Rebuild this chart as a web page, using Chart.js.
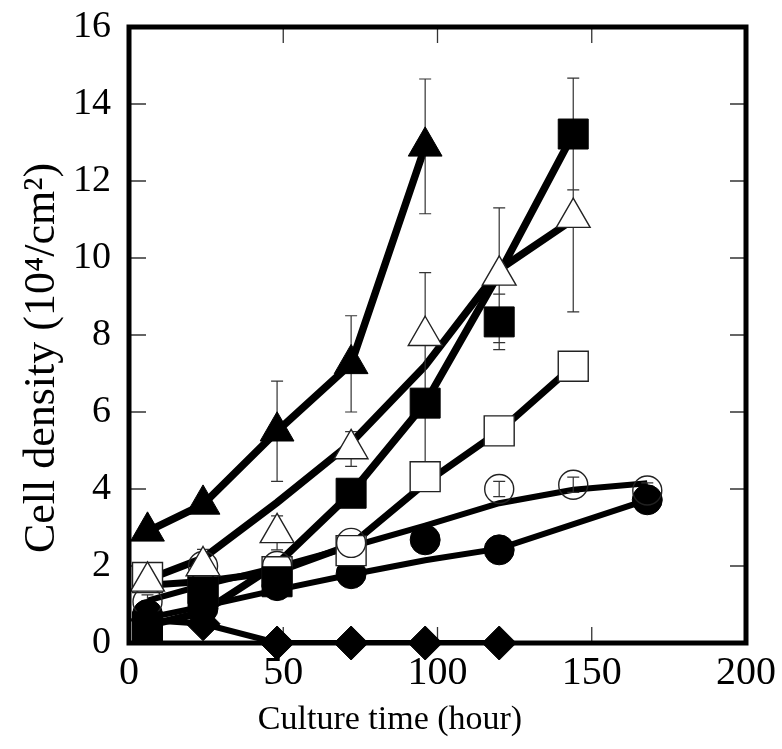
<!DOCTYPE html>
<html>
<head>
<meta charset="utf-8">
<script src="https://cdn.jsdelivr.net/npm/chart.js@4.4.0/dist/chart.umd.min.js"></script>
<style>
  html, body { margin: 0; padding: 0; background: #fff; }
</style>
</head>
<body>
<canvas id="graphique" width="782" height="749"></canvas>
<script>
// temps de culture (heures)
const heures = [6, 24, 48, 72, 96, 120, 144, 168];

// valeurs mesurees (null = pas de point)
const triPlein     = [2.9, 3.6, 5.5, 7.25, 12.9, null, null, null];
const triPleinErr  = [0, 0, 1.3, 1.25, 1.75, 0, 0, 0];
const triVide      = [1.6, 2.0, 2.86, 5.04, 7.98, 9.55, 11.05, null];
const triVideErr   = [0, 0.43, 0.44, 0.45, 1.64, 1.75, 2.45, 0];
const carrePlein   = [0.42, 1.33, 1.59, 3.89, 6.23, 8.34, 13.22, null];
const carrePleinErr = [0, 0, 0, 0, 1.9, 0.72, 1.45, 0];
const carreVide    = [1.7, 1.43, 1.85, 2.4, 4.32, 5.51, 7.19, null];
const rondVide     = [1.07, 2.0, 2.0, 2.6, null, 4.0, 4.11, 3.96];
const rondVideErr  = [0.18, 0, 0, 0, 0, 0.2, 0.2, 0.2];
const rondPlein    = [0.74, 0.9, 1.49, 1.8, 2.68, 2.42, null, 3.72];
const losange      = [0.6, 0.5, 0, 0, 0, 0, null, null];

// courbes tracees (ajustements)
const triPleinCourbe   = [2.9, 3.6, 5.5, 7.25, 12.9, null, null, null];
const triVideCourbe    = [1.65, 2.2, 3.65, 5.2, 7.2, 9.7, 11.0, null];
const carrePleinCourbe = [0.45, 0.8, 2.05, 3.89, 6.23, 9.6, 13.22, null];
const carreVideCourbe  = [1.5, 1.6, 1.85, 2.55, 4.15, 5.5, 7.2, null];
const rondVideCourbe   = [1.1, 1.5, 1.97, 2.5, 3.05, 3.63, 3.98, 4.15];
const rondPleinCourbe  = [0.65, 0.95, 1.38, 1.78, 2.15, 2.45, null, 3.72];
const losangeCourbe    = [0.6, 0.5, 0, 0, 0, 0, null, null];

// ticks et titres
const ticksX = [0, 50, 100, 150, 200];
const ticksY = [0, 2, 4, 6, 8, 10, 12, 14, 16];
const titreX = 'Culture time (hour)';
const titreY = 'Cell density (10⁴/cm²)';

function points(vals) {
  return heures.map((h, i) => ({x: h, y: vals[i]})).filter(p => p.y !== null);
}

function courbe(vals, epaisseur) {
  return {
    data: points(vals),
    borderColor: '#000',
    borderWidth: epaisseur,
    pointRadius: 0,
    tension: 0,
    fill: false,
    spanGaps: true,
    order: 2
  };
}

function marqueur(vals, erreurs, style, rayon, plein, fond) {
  return {
    data: points(vals),
    erreurs: erreurs ? heures.map((h, i) => ({x: h, y: vals[i], e: erreurs[i]})) : null,
    showLine: false,
    pointStyle: style,
    pointRadius: rayon,
    pointHoverRadius: rayon,
    pointBackgroundColor: plein ? '#000' : fond,
    pointBorderColor: plein ? '#000' : '#222',
    pointBorderWidth: plein ? 1 : 1.4,
    clip: false,
    order: 1,
    marqueur: true
  };
}

const cadre = {
  id: 'cadre',
  beforeDatasetsDraw(chart) {
    chart.$barresFaites = false;
    const {ctx, chartArea: a, scales} = chart;
    ctx.save();
    ctx.strokeStyle = '#333';
    ctx.lineWidth = 1.3;
    ctx.beginPath();
    ticksY.slice(1, -1).forEach(v => {
      const py = scales.y.getPixelForValue(v);
      ctx.moveTo(a.left, py); ctx.lineTo(a.left + 17, py);
      ctx.moveTo(a.right, py); ctx.lineTo(a.right - 16, py);
    });
    ticksX.slice(1, -1).forEach(v => {
      const px = scales.x.getPixelForValue(v);
      ctx.moveTo(px, a.bottom); ctx.lineTo(px, a.bottom - 16);
      ctx.moveTo(px, a.top); ctx.lineTo(px, a.top + 16);
    });
    ctx.stroke();
    ctx.restore();
  },
  beforeDatasetDraw(chart, args) {
    const ds = chart.data.datasets[args.index];
    if (!ds.marqueur || chart.$barresFaites) return;
    chart.$barresFaites = true;
    const {ctx, scales} = chart;
    ctx.save();
    ctx.strokeStyle = '#333';
    ctx.lineWidth = 1.2;
    ctx.beginPath();
    chart.data.datasets.forEach(d => {
      if (!d.erreurs) return;
      d.erreurs.forEach(p => {
        if (p.y === null || !p.e) return;
        const px = scales.x.getPixelForValue(p.x);
        const haut = scales.y.getPixelForValue(p.y + p.e);
        const bas = scales.y.getPixelForValue(p.y - p.e);
        ctx.moveTo(px, haut); ctx.lineTo(px, bas);
        ctx.moveTo(px - 6, haut); ctx.lineTo(px + 6, haut);
        ctx.moveTo(px - 6, bas); ctx.lineTo(px + 6, bas);
      });
    });
    ctx.stroke();
    ctx.restore();
  },
  afterDraw(chart) {
    const {ctx, chartArea: a} = chart;
    ctx.save();
    ctx.strokeStyle = '#000';
    ctx.lineWidth = 5;
    ctx.strokeRect(a.left, a.top, a.right - a.left, a.bottom - a.top);
    // titres des axes
    ctx.fillStyle = '#000';
    ctx.textAlign = 'center';
    ctx.textBaseline = 'alphabetic';
    ctx.font = '34px "Liberation Serif"';
    ctx.fillText(titreX, 390, 729);
    ctx.translate(54, 358);
    ctx.rotate(-Math.PI / 2);
    ctx.font = '44px "Liberation Serif"';
    ctx.fillText(titreY, 0, 0);
    ctx.restore();
  }
};

const graph = document.getElementById('graphique');

new Chart(graph, {
  type: 'line',
  data: {
    datasets: [
      // marqueurs (index 0 dessine en dernier)
      marqueur(triVide, triVideErr, 'triangle', 19.5, false, '#fff'),
      marqueur(triPlein, triPleinErr, 'triangle', 19.5, true),
      marqueur(carrePlein, carrePleinErr, 'rect', 21.2, true),
      marqueur(rondVide, rondVideErr, 'circle', 14.5, false, 'rgba(0,0,0,0)'),
      marqueur(carreVide, null, 'rect', 21.2, false, '#fff'),
      marqueur(rondPlein, null, 'circle', 15, true),
      marqueur(losange, null, 'rectRot', 17, true),
      // courbes
      courbe(triPleinCourbe, 7.5),
      courbe(triVideCourbe, 7.5),
      courbe(carrePleinCourbe, 7.5),
      courbe(carreVideCourbe, 7),
      courbe(rondVideCourbe, 6),
      courbe(rondPleinCourbe, 6),
      courbe(losangeCourbe, 6)
    ]
  },
  options: {
    responsive: false,
    animation: false,
    events: [],
    layout: { padding: { top: 27, right: 36, bottom: 0, left: 0 } },
    plugins: { legend: { display: false }, tooltip: { enabled: false } },
    scales: {
      x: {
        type: 'linear',
        min: 0, max: 200,
        afterBuildTicks: s => { s.ticks = ticksX.map(v => ({value: v})); },
        afterFit: s => { s.height = 106; s.paddingLeft = 0; s.paddingRight = 0; },
        grid: { display: false, drawTicks: false },
        border: { display: false },
        ticks: { color: '#000', padding: 6, font: { family: 'Liberation Serif', size: 40 } }
      },
      y: {
        min: 0, max: 16,
        afterBuildTicks: s => { s.ticks = ticksY.map(v => ({value: v})); },
        afterFit: s => { s.width = 129; s.paddingTop = 0; s.paddingBottom = 0; },
        grid: { display: false, drawTicks: false },
        border: { display: false },
        ticks: { color: '#000', padding: 18, font: { family: 'Liberation Serif', size: 38 } }
      }
    }
  },
  plugins: [cadre]
});
</script>
</body>
</html>
